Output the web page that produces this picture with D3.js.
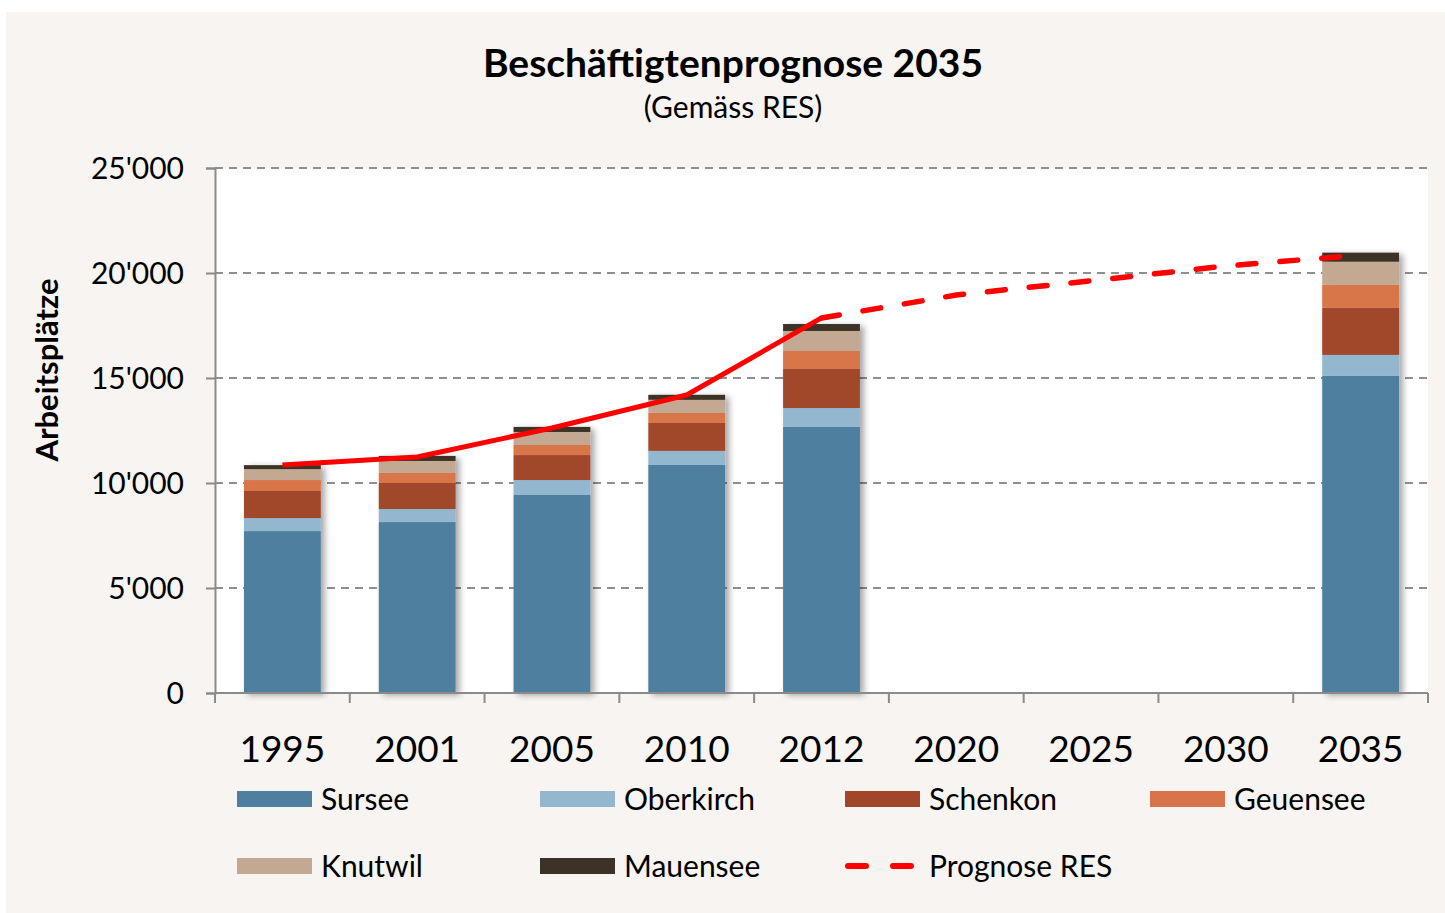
<!DOCTYPE html>
<html>
<head>
<meta charset="utf-8">
<script src="https://cdn.jsdelivr.net/npm/d3@7"></script>
<style>
  body { margin: 0; background: #fff; }
  text { font-family: Lato, "Open Sans", sans-serif; fill: #000; }
</style>
</head>
<body>
<div id="cont"></div>
<script>
// categories
var years = ["1995", "2001", "2005", "2010", "2012", "2020", "2025", "2030", "2035"];

// stacked series (Arbeitsplätze), no bars for 2020-2030
var sursee    = [7710, 8140, 9430, 10860, 12670, 0, 0, 0, 15100];
var oberkirch = [620, 620, 710, 670, 900, 0, 0, 0, 1000];
var schenkon  = [1290, 1240, 1190, 1330, 1860, 0, 0, 0, 2240];
var geuensee  = [520, 480, 480, 480, 860, 0, 0, 0, 1100];
var knutwil   = [520, 570, 620, 620, 950, 0, 0, 0, 1100];
var mauensee  = [190, 240, 240, 240, 330, 0, 0, 0, 430];

// line
var prognose = [10860, 11240, 12620, 14190, 17860, 18950, 19630, 20330, 20860];

var yTicks = [0, 5000, 10000, 15000, 20000, 25000];

var seriesNames = ["Sursee", "Oberkirch", "Schenkon", "Geuensee", "Knutwil", "Mauensee"];
var seriesData = [sursee, oberkirch, schenkon, geuensee, knutwil, mauensee];
var seriesColors = ["#4f7f9f", "#94b7d0", "#a1462a", "#d8744a", "#c3a892", "#3d3227"];

var W = 1445, H = 913;
var plotL = 215, plotR = 1428, plotT = 168, plotB = 693;

var svg = d3.select("#cont").append("svg")
  .attr("width", W)
  .attr("height", H);

var defs = svg.append("defs");
var f = defs.append("filter").attr("id", "shadow")
  .attr("x", "-20%").attr("y", "-10%").attr("width", "150%").attr("height", "130%");
f.append("feDropShadow")
  .attr("dx", 4).attr("dy", 2)
  .attr("stdDeviation", 3)
  .attr("flood-color", "#000")
  .attr("flood-opacity", 0.35);

// beige panel
svg.append("rect")
  .attr("x", 6).attr("y", 12)
  .attr("width", W - 6).attr("height", H - 12)
  .style("fill", "#f7f4f1");

// plot area
svg.append("rect")
  .attr("x", plotL).attr("y", plotT)
  .attr("width", plotR - plotL).attr("height", plotB - plotT)
  .style("fill", "#fff");

var x = d3.scaleBand()
  .domain(years)
  .range([plotL, plotR])
  .paddingInner(0.43)
  .paddingOuter(0.215);

var y = d3.scaleLinear()
  .domain([0, 25000])
  .range([plotB, plotT]);

// gridlines
svg.append("g")
  .selectAll("line")
  .data(yTicks.filter(function(d) { return d > 0; }))
  .enter()
  .append("line")
  .attr("x1", plotL).attr("x2", plotR)
  .attr("y1", function(d) { return y(d); })
  .attr("y2", function(d) { return y(d); })
  .style("stroke", "#8f8f8f")
  .style("stroke-width", 2)
  .style("stroke-dasharray", "8,6");

// stack
var rows = years.map(function(yr, i) {
  var r = { year: yr };
  seriesNames.forEach(function(n, j) { r[n] = seriesData[j][i]; });
  return r;
});
var stacked = d3.stack().keys(seriesNames)(rows);

// bars with shadow
var barsG = svg.append("g").attr("filter", "url(#shadow)");
barsG.selectAll("g")
  .data(stacked)
  .enter()
  .append("g")
  .style("fill", function(d, i) { return seriesColors[i]; })
  .selectAll("rect")
  .data(function(d) { return d.filter(function(p) { return p[1] - p[0] > 0; }); })
  .enter()
  .append("rect")
  .attr("x", function(d) { return x(d.data.year); })
  .attr("width", x.bandwidth())
  .attr("y", function(d) { return y(d[1]); })
  .attr("height", function(d) { return y(d[0]) - y(d[1]); });

// y axis
var yAxis = d3.axisLeft(y)
  .tickValues(yTicks)
  .tickSize(9)
  .tickPadding(22)
  .tickFormat(function(d) { return d === 0 ? "0" : d3.format(",")(d).replace(/,/g, "'"); });

var gy = svg.append("g")
  .attr("transform", "translate(" + plotL + ",0)")
  .call(yAxis);
gy.select(".domain").style("stroke", "#8a8a8a").style("stroke-width", 2);
gy.selectAll(".tick line").style("stroke", "#8a8a8a").style("stroke-width", 2);
gy.selectAll(".tick text")
  .style("font-size", "30px")
  .style("font-family", "Lato, sans-serif")
  .style("fill", "#000")
  .attr("dy", "0.36em");

// x axis: ticks on band boundaries
var step = x.step();
var boundaries = years.map(function(d) { return x(d) - step * x.paddingInner() / 2; });
boundaries.push(plotR);

svg.append("line")
  .attr("x1", plotL).attr("x2", plotR)
  .attr("y1", plotB).attr("y2", plotB)
  .style("stroke", "#8a8a8a")
  .style("stroke-width", 2);

svg.append("g")
  .selectAll("line")
  .data(boundaries)
  .enter()
  .append("line")
  .attr("x1", function(d) { return d; })
  .attr("x2", function(d) { return d; })
  .attr("y1", plotB)
  .attr("y2", plotB + 10)
  .style("stroke", "#8a8a8a")
  .style("stroke-width", 2);

svg.append("g")
  .selectAll("text")
  .data(years)
  .enter()
  .append("text")
  .attr("x", function(d) { return x(d) + x.bandwidth() / 2; })
  .attr("y", 762)
  .attr("text-anchor", "middle")
  .style("font-size", "37px")
  .text(function(d) { return d; });

// prognose line
var line = d3.line()
  .x(function(d) { return x(d.year) + x.bandwidth() / 2; })
  .y(function(d) { return y(d.v); });

var pts = years.map(function(yr, i) { return { year: yr, v: prognose[i] }; });

svg.append("path")
  .datum(pts.slice(0, 5))
  .attr("d", line)
  .style("fill", "none")
  .style("stroke", "#ff0000")
  .style("stroke-width", 5)
  .style("stroke-linejoin", "round");

svg.append("path")
  .datum(pts.slice(4))
  .attr("d", line)
  .style("fill", "none")
  .style("stroke", "#ff0000")
  .style("stroke-width", 5.5)
  .style("stroke-linecap", "round")
  .style("stroke-dasharray", "18,24");

// titles
svg.append("text")
  .attr("x", 733).attr("y", 77)
  .attr("text-anchor", "middle")
  .style("font-size", "39px")
  .style("font-weight", "bold")
  .text("Beschäftigtenprognose 2035");

svg.append("text")
  .attr("x", 733).attr("y", 118)
  .attr("text-anchor", "middle")
  .style("font-size", "30px")
  .text("(Gemäss RES)");

svg.append("text")
  .attr("transform", "translate(58,370) rotate(-90)")
  .attr("text-anchor", "middle")
  .style("font-size", "31px")
  .style("font-weight", "bold")
  .text("Arbeitsplätze");

// legend
var legendItems = seriesNames.map(function(n, i) { return { name: n, color: seriesColors[i], type: "rect" }; });
legendItems.push({ name: "Prognose RES", color: "#ff0000", type: "dash" });

var legendX = [237, 540, 845, 1150];
var legendY = [799, 866];

var lg = svg.append("g").selectAll("g")
  .data(legendItems)
  .enter()
  .append("g")
  .attr("transform", function(d, i) {
    return "translate(" + legendX[i % 4] + "," + legendY[Math.floor(i / 4)] + ")";
  });

lg.filter(function(d) { return d.type === "rect"; })
  .append("rect")
  .attr("x", 0).attr("y", -8)
  .attr("width", 75).attr("height", 16)
  .style("fill", function(d) { return d.color; });

lg.filter(function(d) { return d.type === "dash"; })
  .append("line")
  .attr("x1", 3).attr("x2", 72)
  .attr("y1", 0).attr("y2", 0)
  .style("stroke", "#ff0000")
  .style("stroke-width", 6)
  .style("stroke-linecap", "round")
  .style("stroke-dasharray", "18,27");

lg.append("text")
  .attr("x", 84)
  .attr("y", 0)
  .attr("dy", "0.36em")
  .style("font-size", "30px")
  .text(function(d) { return d.name; });
</script>
</body>
</html>
